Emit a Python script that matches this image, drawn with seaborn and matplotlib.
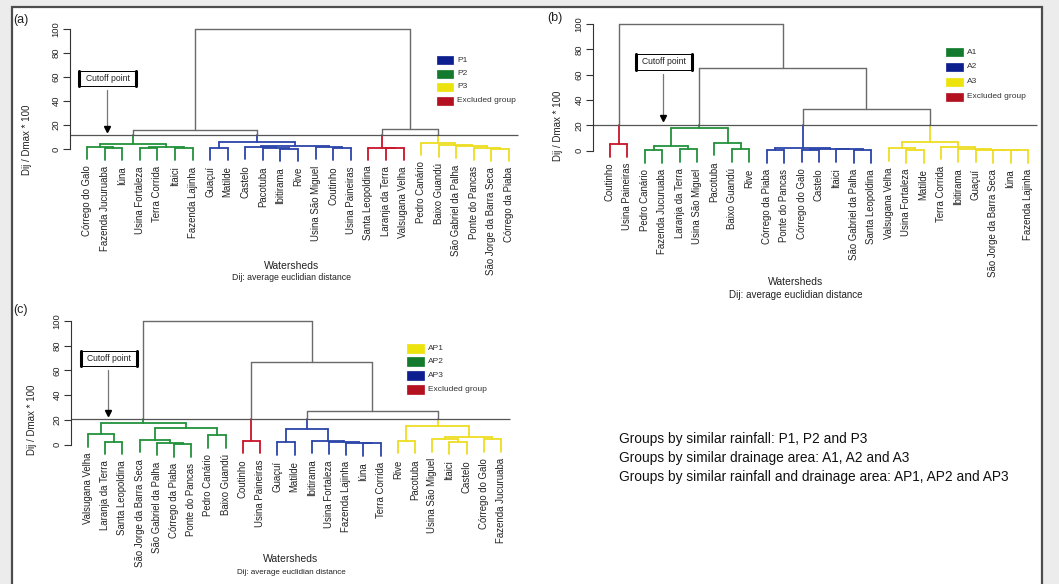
import matplotlib
matplotlib.use("Agg")
import matplotlib.pyplot as plt
import seaborn as sns
from matplotlib.patches import Rectangle
from matplotlib.lines import Line2D
from matplotlib.transforms import Affine2D

sns.set_theme(style="white")
plt.rcParams['font.family'] = ['Liberation Sans', 'DejaVu Sans']

W, H = 1059, 584

# ---- (a) groups by rainfall: subtrees are (left, right, height) ----
green_a = (("Córrego do Galo", ("Fazenda Jucuruaba", "Iúna", 0.8), 1.9),
           (("Usina Fortaleza", "Terra Corrida", 0.9), ("Itaici", "Fazenda Lajinha", 0.6), 1.9), 4.1)
blue_a = (("Guaçuí", "Matilde", 1.1),
          (("Castelo", ("Pacotuba", ("Ibitirama", "Rive", 0.4), 0.9), 1.3),
           ("Usina São Miguel", ("Coutinho", "Usina Paineiras", 0.6), 1.4), 2.1), 5.9)
red_a = ("Santa Leopoldina", ("Laranja da Terra", "Valsugana Velha", 0.6), 1.2)
yellow_a = ("Pedro Canário", ("Baixo Guandú", ("São Gabriel da Palha", ("Ponte do Pancas",
            ("São Jorge da Barra Seca", "Córrego da Piaba", 0.4), 1.1), 2.4), 3.3), 5.3)
tree_a = ((green_a, blue_a, 16.0), (red_a, yellow_a, 16.4), 100)
legend_a = ["P1", "P2", "P3", "Excluded group"]
groups_a = [blue_a, green_a, yellow_a, red_a]
cut_a = 11.4

# ---- (b) groups by drainage area ----
red_b = ("Coutinho", "Usina Paineiras", 5.3)
green_b = ((("Pedro Canário", "Fazenda Jucuruaba", 0.5), ("Laranja da Terra", "Usina São Miguel", 1.0), 4.0),
           ("Pacotuba", ("Baixo Guandú", "Rive", 1.0), 6.3), 17.7)
blue_b = (("Córrego da Piaba", "Ponte do Pancas", 0.5),
          (("Córrego do Galo", "Castelo", 0.8),
           ("Itaici", ("São Gabriel da Palha", "Santa Leopoldina", 0.5), 1.0), 1.4), 2.4)
yellow_b = (("Valsugana Velha", ("Usina Fortaleza", "Matilde", 0.5), 1.9),
            ("Terra Corrida", ("Ibitirama", ("Guaçuí", ("São Jorge da Barra Seca",
             ("Iúna", "Fazenda Lajinha", 0.3), 0.5), 0.8), 1.2), 3.2), 6.6)
tree_b = (red_b, (green_b, (blue_b, yellow_b, 32.9), 65.5), 100)
legend_b = ["A1", "A2", "A3", "Excluded group"]
groups_b = [green_b, blue_b, yellow_b, red_b]
cut_b = 20.5

# ---- (c) groups by rainfall and drainage area ----
green_c = (("Valsugana Velha", ("Laranja da Terra", "Santa Leopoldina", 2.4), 8.5),
           (("São Jorge da Barra Seca", ("São Gabriel da Palha", ("Córrego da Piaba", "Ponte do Pancas", 0.3), 1.6), 3.8),
            ("Pedro Canário", "Baixo Guandú", 7.7), 13.2), 17.4)
red_c = ("Coutinho", "Usina Paineiras", 3.2)
blue_c = (("Guaçuí", "Matilde", 1.9),
          ("Ibitirama", ("Usina Fortaleza", ("Fazenda Lajinha", ("Iúna", "Terra Corrida", 1.1), 1.6), 2.4), 3.3), 12.7)
yellow_c = (("Rive", "Pacotuba", 3.2),
            (("Usina São Miguel", ("Itaici", "Castelo", 2.4), 4.3),
             ("Córrego do Galo", "Fazenda Jucuruaba", 4.3), 6.5), 15.3)
tree_c = (green_c, (red_c, (blue_c, yellow_c, 27.2), 67), 100)
legend_c = ["AP1", "AP2", "AP3", "Excluded group"]
groups_c = [yellow_c, green_c, blue_c, red_c]
cut_c = 20.5

notes = ["Groups by similar rainfall: P1, P2 and P3",
         "Groups by similar drainage area: A1, A2 and A3",
         "Groups by similar rainfall and drainage area: AP1, AP2 and AP3"]

line_col = {"green": "#23923b", "blue": "#2c45aa", "yellow": "#eedd22", "red": "#c8142a"}
box_col = {"green": "#137a2e", "blue": "#0d1f8e", "yellow": "#ece30c", "red": "#b31020"}
GRAY = "#6a6a6a"
TXT = "#222222"


def leaves_of(node):
    if isinstance(node, str):
        return [node]
    return leaves_of(node[0]) + leaves_of(node[1])


def draw_tree(ax, node, pos, colour, cut, hang=10):
    # returns x, height and colour of the node (None when mixed)
    if isinstance(node, str):
        return pos[node], None, colour[node]
    h = node[2]
    xs, cols = [], []
    for child in node[:2]:
        x, ch, c = draw_tree(ax, child, pos, colour, cut, hang)
        if ch is None:
            bottom = h - hang
            ax.plot([x, x], [bottom, h], color=line_col[c] if h <= cut else GRAY, lw=1.3)
            ax.annotate(child, (x, bottom), xytext=(0, -4.5), textcoords="offset points",
                        rotation=90, ha="center", va="top", fontsize=6.9, color=TXT,
                        annotation_clip=False)
        elif h <= cut:
            ax.plot([x, x], [ch, h], color=line_col[c], lw=1.3)
        elif ch < cut and c is not None:
            ax.plot([x, x], [ch, cut], color=line_col[c], lw=1.3)
            ax.plot([x, x], [cut, h], color=GRAY, lw=1.0)
        else:
            ax.plot([x, x], [ch, h], color=GRAY, lw=1.0)
        xs.append(x)
        cols.append(c)
    col = cols[0] if cols[0] == cols[1] else None
    if h <= cut and col is not None:
        ax.plot(xs, [h, h], color=line_col[col], lw=1.3)
    else:
        ax.plot(xs, [h, h], color=GRAY, lw=1.0)
    return sum(xs) / 2, h, col


fig = plt.figure(figsize=(W / 100, H / 100), dpi=100)
fig.patch.set_facecolor("#ececec")
pix = Affine2D().scale(1 / W, -1 / H).translate(0, 1) + fig.transFigure

fig.add_artist(Rectangle((12, 7), 1030, 620, transform=pix, facecolor="white",
                         edgecolor="#4d4d4d", lw=1.6, zorder=-5))

panels = [
    dict(tree=tree_a, groups=groups_a, legend=legend_a, cut=cut_a,
         cols=["blue", "green", "yellow", "red"],
         leaf=(87, 509), v=(29, 149), tag=(21, 20, "(a)"), ylab=(27, 140),
         xlab=(292, 266, 278, 6.3), leg=(437, 60, 13.5, 15.5, 8),
         box=(79, 71, 136, 86), arrow=(107, 90, 129)),
    dict(tree=tree_b, groups=groups_b, legend=legend_b, cut=cut_b,
         cols=["green", "blue", "yellow", "red"],
         leaf=(610, 1028), v=(24, 150.7), tag=(555, 18, "(b)"), ylab=(558, 126),
         xlab=(796, 282, 295, 7.1), leg=(946, 52, 14.9, 16.5, 8),
         box=(636, 54, 692, 70), arrow=(663, 74, 118)),
    dict(tree=tree_c, groups=groups_c, legend=legend_c, cut=cut_c,
         cols=["yellow", "green", "blue", "red"],
         leaf=(88, 501), v=(320.7, 444.7), tag=(20, 310, "(c)"), ylab=(32, 420),
         xlab=(291, 559, 573, 5.8), leg=(407, 348, 13.9, 16.7, 9),
         box=(81, 351, 137, 366), arrow=(108, 370, 413)),
]

for p in panels:
    names = leaves_of(p["tree"])
    n = len(names)
    pos = {name: i + 1 for i, name in enumerate(names)}
    colour = {}
    for sub, c in zip(p["groups"], p["cols"]):
        for name in leaves_of(sub):
            colour[name] = c

    l1, ln = p["leaf"]
    dx = (ln - l1) / (n - 1)
    x0, x1 = l1 - 0.96 * dx, ln + 0.96 * dx
    v100, v0 = p["v"]
    dy = (v0 - v100) / 100
    ylo, yhi = -12, 102
    ytop, ybot = v100 - (yhi - 100) * dy, v0 - ylo * dy
    ax = fig.add_axes([x0 / W, 1 - ybot / H, (x1 - x0) / W, (ybot - ytop) / H])
    ax.set_facecolor("none")
    ax.set_xlim(1 - 0.96, n + 0.96)
    ax.set_ylim(ylo, yhi)

    draw_tree(ax, p["tree"], pos, colour, p["cut"])
    ax.hlines(p["cut"], 1 - 0.96, n + 0.5, color="#555555", lw=0.9)

    sns.despine(ax=ax, bottom=True)
    ax.spines["left"].set_bounds(0, 100)
    ax.spines["left"].set_color("#333333")
    ax.spines["left"].set_linewidth(0.8)
    ax.set_xticks([])
    ax.set_yticks(range(0, 101, 20))
    ax.set_yticklabels([str(t) for t in range(0, 101, 20)], rotation=90, va="center")
    ax.tick_params(axis="y", left=True, length=5, width=0.8, color="#333333",
                   labelsize=6.8, labelcolor=TXT, pad=2)

    tx, ty, tag = p["tag"]
    fig.text(tx, ty, tag, transform=pix, fontsize=9, ha="center", va="center", color=TXT)
    yx, yy = p["ylab"]
    fig.text(yx, yy, "Dij / Dmax * 100", transform=pix, fontsize=7, rotation=90,
             ha="center", va="center", color=TXT)
    wx, wy, dyy, dfs = p["xlab"]
    fig.text(wx, wy, "Watersheds", transform=pix, fontsize=7.5, ha="center", va="center", color=TXT)
    fig.text(wx, dyy, "Dij: average euclidian distance", transform=pix, fontsize=dfs,
             ha="center", va="center", color=TXT)

    # legend
    lx, ly, step, bw, bh = p["leg"]
    for i, (lab, c) in enumerate(zip(p["legend"], p["cols"])):
        cy = ly + i * step
        fig.add_artist(Rectangle((lx, cy - bh / 2), bw, bh, transform=pix,
                                 facecolor=box_col[c], edgecolor=box_col[c], lw=0.5))
        fig.text(lx + bw + 4.5, cy, lab, transform=pix, fontsize=6, ha="left",
                 va="center", color="#333333")

    # cutoff annotation
    bx0, by0, bx1, by1 = p["box"]
    fig.add_artist(Rectangle((bx0, by0), bx1 - bx0, by1 - by0, transform=pix,
                             facecolor="white", edgecolor="black", lw=0.7))
    for sx in (bx0, bx1):
        fig.add_artist(Line2D([sx, sx], [by0, by1], transform=pix, color="black", lw=2.2))
    fig.text((bx0 + bx1) / 2, (by0 + by1) / 2, "Cutoff point", transform=pix, fontsize=6.2,
             ha="center", va="center", color=TXT)
    ax_, a0, a1 = p["arrow"]
    fig.add_artist(Line2D([ax_, ax_], [a0, a1 - 3], transform=pix, color="#777777", lw=0.9))
    fig.add_artist(Line2D([ax_], [a1], transform=pix, color="black", marker="v",
                          markersize=4, lw=0))

for i, note in enumerate(notes):
    fig.text(619, 439 + 19 * i, note, transform=pix, fontsize=9.9, ha="left",
             va="center", color="#111111")

fig.savefig("out.png", dpi=100, facecolor=fig.get_facecolor())
